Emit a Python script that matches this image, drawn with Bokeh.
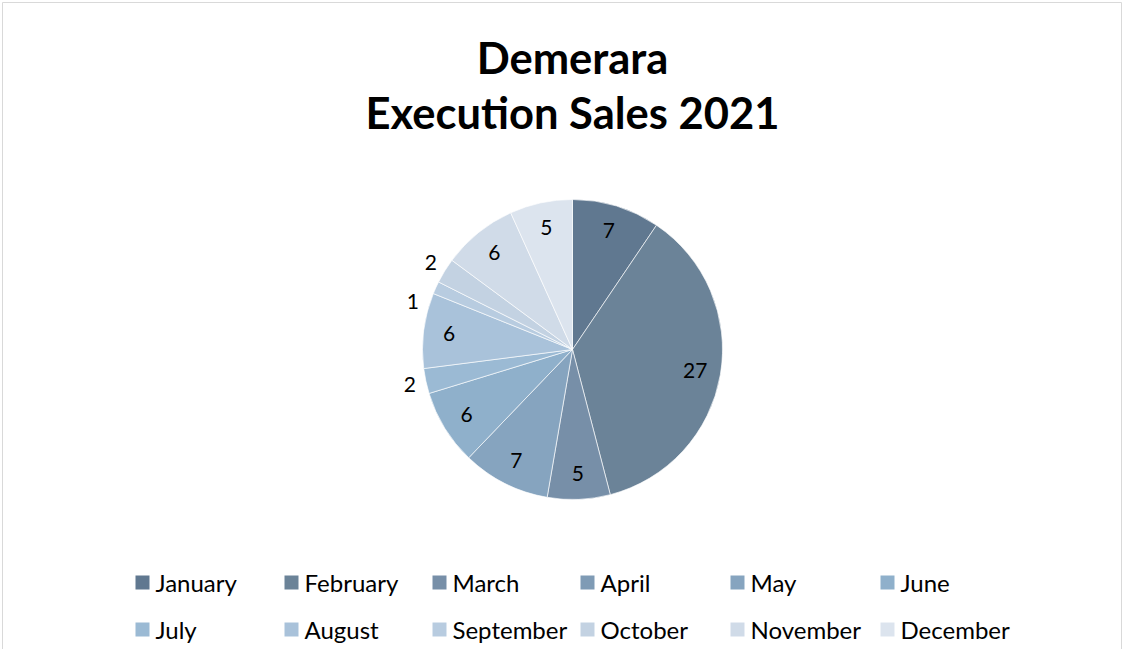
import math
from bokeh.plotting import figure
from bokeh.models import ColumnDataSource, Range1d
from bokeh.core.properties import value
from bokeh.embed import file_html
from bokeh.resources import INLINE

# ---- data ----
months = ["January", "February", "March", "April", "May", "June",
          "July", "August", "September", "October", "November", "December"]
sales = [7, 27, 5, 0, 7, 6, 2, 6, 1, 2, 6, 5]
colors = ["#607890", "#6b8398", "#778fa8", "#7f9bb5", "#86a4bf", "#8fb0cb",
          "#9bbad4", "#a9c2da", "#b8cce0", "#c3d2e2", "#d0dbe8", "#dce4ee"]
title_lines = ["Demerara", "Execution Sales 2021"]

W, H = 1123, 649
FONT = "Lato"

p = figure(width=W, height=H, output_backend="svg", toolbar_location=None,
           x_range=Range1d(0, W), y_range=Range1d(0, H),
           x_axis_type=None, y_axis_type=None, min_border=0)
p.grid.visible = False
p.outline_line_color = None
p.background_fill_color = "white"
p.border_fill_color = "white"

# chart border (top, left, right)
p.multi_line(xs=[[2, 2], [2, W - 2], [W - 2, W - 2]],
             ys=[[0, H - 2], [H - 2, H - 2], [H - 2, 0]],
             line_color="#d9d9d9", line_width=1)

# ---- pie ----
cx, cy, R = 572, 300, 150
total = sum(sales)
starts, ends, cum = [], [], 0
for v in sales:
    starts.append(math.pi / 2 - 2 * math.pi * cum / total)
    cum += v
    ends.append(math.pi / 2 - 2 * math.pi * cum / total)

idx = [i for i, v in enumerate(sales) if v > 0]
wsrc = ColumnDataSource(dict(
    start=[starts[i] for i in idx], end=[ends[i] for i in idx],
    color=[colors[i] for i in idx]))
p.wedge(x=cx, y=cy, radius=R, start_angle="start", end_angle="end",
        direction="clock", fill_color="color", line_color="white",
        line_width=0.8, line_alpha=0.8, source=wsrc)

# label angles; small slices get outside labels, spread apart if crowded
mids = {i: (starts[i] + ends[i]) / 2 for i in idx}
outside = [i for i in idx if sales[i] < 5]
min_gap = math.radians(15)
for a, b in zip(outside, outside[1:]):
    gap = mids[a] - mids[b]
    if 0 < gap < min_gap:
        mids[a] += (min_gap - gap)

lx, ly, lt = [], [], []
for i in idx:
    mid = mids[i]
    r = 0.83 * R if sales[i] >= 5 else 1.11 * R
    lx.append(cx + r * math.cos(mid))
    ly.append(cy + r * math.sin(mid))
    lt.append(str(sales[i]))
p.text(x=lx, y=ly, text=lt, text_align="center", text_baseline="middle",
       text_font=value(FONT), text_font_size="21px", text_color="#000000")

# ---- title ----
p.text(x=[572, 572], y=[593, 538], text=title_lines, text_align="center",
       text_baseline="middle", text_font=value(FONT), text_font_size="43.5px",
       text_font_style="bold", text_color="#000000")

# ---- legend ----
col_x = [135, 284, 432, 580, 730, 880]
row_y = [67, 20]
sx, sy, tx = [], [], []
for k, m in enumerate(months):
    c, r = k % 6, k // 6
    sx.append(col_x[c] + 7)
    sy.append(row_y[r])
    tx.append(col_x[c] + 20)
lsrc = ColumnDataSource(dict(sx=sx, sy=sy, tx=tx, name=months, color=colors))
p.rect(x="sx", y="sy", width=14, height=14, fill_color="color",
       line_color=None, source=lsrc)
p.text(x="tx", y="sy", text="name", text_align="left", text_baseline="middle",
       text_font=value(FONT), text_font_size="24px", text_color="#000000",
       source=lsrc)

open("out.html", "w").write(file_html(p, INLINE))
